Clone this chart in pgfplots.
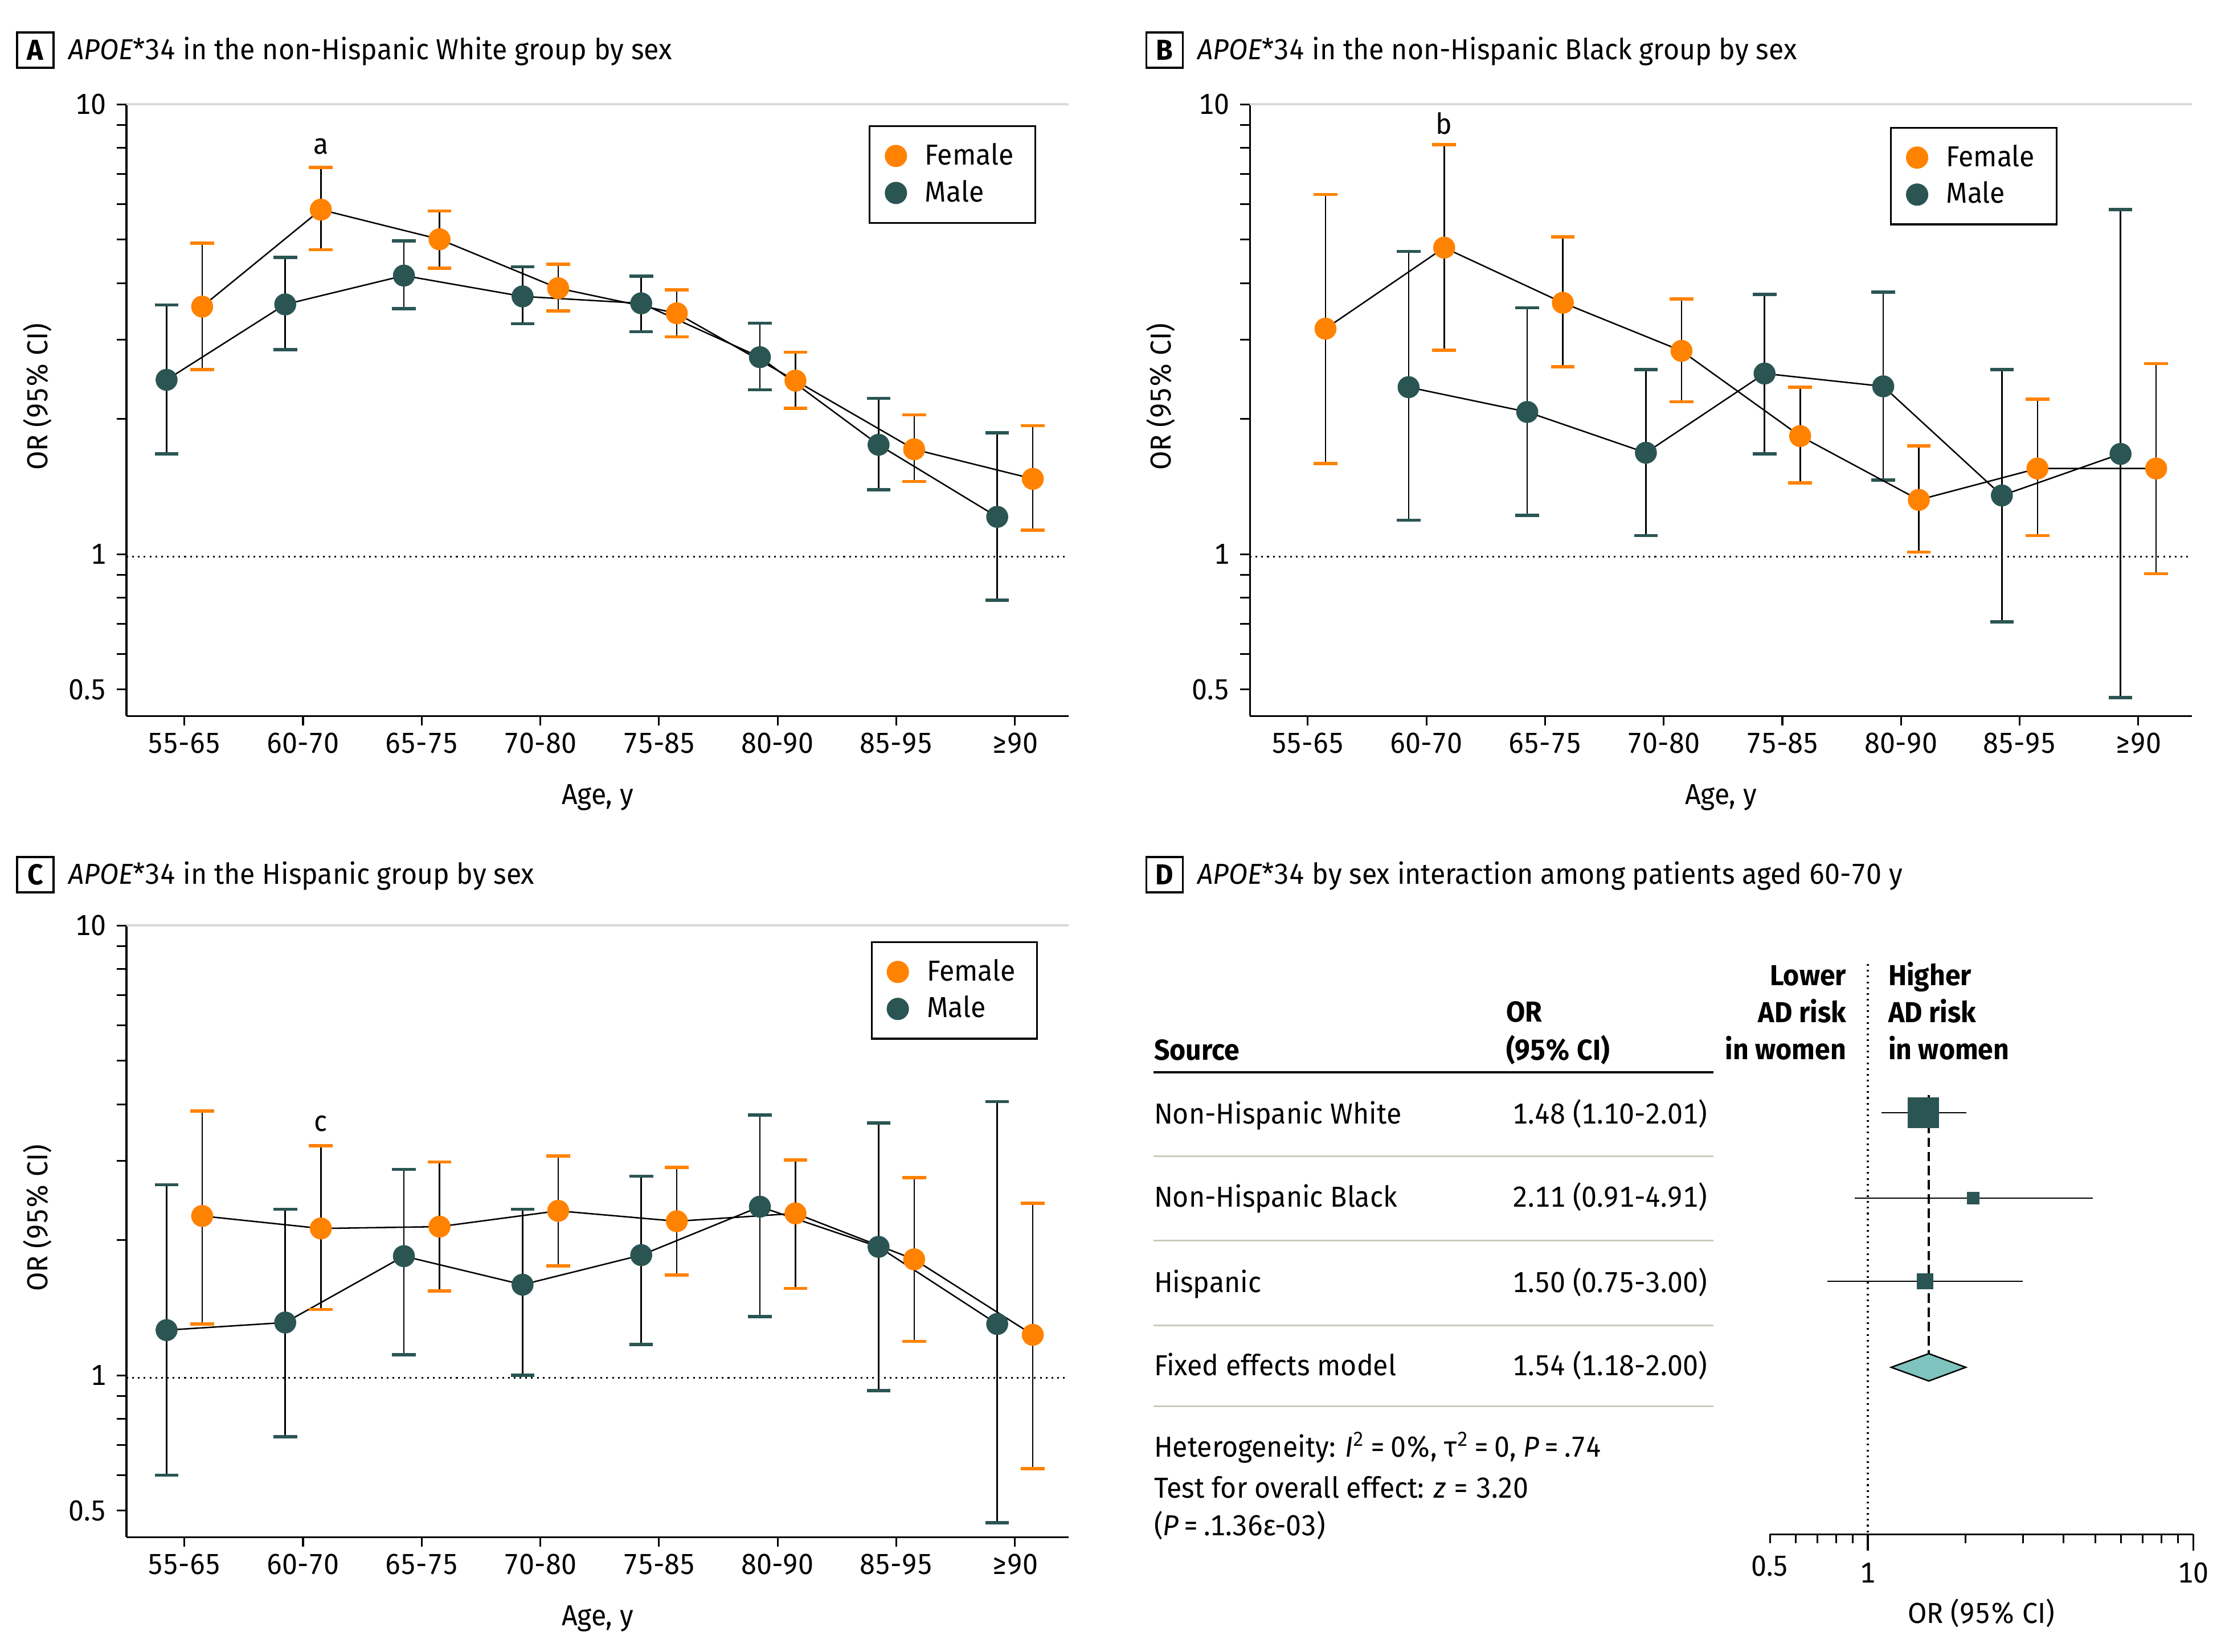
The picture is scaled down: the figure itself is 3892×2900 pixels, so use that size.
\documentclass[border=0pt]{standalone}
\usepackage{fontspec}
\setmainfont{Fira Sans}[FakeStretch=0.95, Numbers=Monospaced]
\usepackage{pgfplots}
\usepackage{pgfplotstable}
\pgfplotsset{compat=1.18}
\definecolor{femc}{HTML}{FF8200}
\definecolor{malec}{HTML}{2A5553}
\definecolor{diac}{HTML}{7FC3BE}
\definecolor{rulec}{HTML}{CACABE}
\definecolor{topc}{HTML}{D9D9D9}

% panel A
\pgfplotstableread{
i y lo hi
0 3.55 2.57 4.91
1 5.83 4.75 7.24
2 5.01 4.32 5.79
3 3.90 3.47 4.41
4 3.43 3.04 3.87
5 2.43 2.11 2.81
6 1.71 1.45 2.04
7 1.47 1.13 1.93
}\AF
\pgfplotstableread{
i y lo hi
0 2.44 1.67 3.58
1 3.59 2.85 4.57
2 4.16 3.51 4.97
3 3.74 3.25 4.35
4 3.61 3.12 4.15
5 2.74 2.32 3.26
6 1.75 1.39 2.22
7 1.21 0.79 1.86
}\AM
% panel B
\pgfplotstableread{
i y lo hi
0 3.17 1.59 6.30
1 4.80 2.84 8.13
2 3.62 2.61 5.07
3 2.83 2.18 3.69
4 1.83 1.44 2.35
5 1.32 1.01 1.74
6 1.55 1.10 2.21
7 1.55 0.905 2.65
}\BF
\pgfplotstableread{
i y lo hi
1 2.35 1.19 4.71
2 2.07 1.22 3.53
3 1.68 1.10 2.57
4 2.52 1.67 3.78
5 2.36 1.46 3.82
6 1.35 0.707 2.57
7 1.67 0.48 5.83
}\BM
% panel C
\pgfplotstableread{
i y lo hi
0 2.26 1.30 3.87
1 2.12 1.40 3.24
2 2.14 1.54 2.98
3 2.32 1.75 3.07
4 2.20 1.67 2.90
5 2.29 1.56 3.01
6 1.81 1.19 2.75
7 1.23 0.62 2.41
}\CF
\pgfplotstableread{
i y lo hi
0 1.26 0.60 2.65
1 1.31 0.73 2.34
2 1.84 1.11 2.87
3 1.59 1.00 2.34
4 1.85 1.17 2.77
5 2.37 1.35 3.79
6 1.93 0.925 3.64
7 1.30 0.47 4.06
}\CM

\begin{document}
\fontsize{10}{12}\selectfont
\begin{tikzpicture}
\begin{scope}[x=0.19707pt, y=-0.19707pt]
\useasboundingbox (0,0) rectangle (3892,2900);
\draw[line width=0.6pt] (30,57) rectangle (94,119);
\node[font=\bfseries] at (62,88) {A};
\node[anchor=base west, inner sep=0pt] at (119,104) {\textit{APOE}*34 in the non-Hispanic White group by sex};
\draw[line width=0.6pt] (2012,57) rectangle (2076,119);
\node[font=\bfseries] at (2044,88) {B};
\node[anchor=base west, inner sep=0pt] at (2101,104) {\textit{APOE}*34 in the non-Hispanic Black group by sex};
\draw[line width=0.6pt] (30,1505) rectangle (94,1567);
\node[font=\bfseries] at (62,1536) {C};
\node[anchor=base west, inner sep=0pt] at (119,1552) {\textit{APOE}*34 in the Hispanic group by sex};
\draw[line width=0.6pt] (2012,1505) rectangle (2076,1567);
\node[font=\bfseries] at (2044,1536) {D};
\node[anchor=base west, inner sep=0pt] at (2101,1552) {\textit{APOE}*34 by sex interaction among patients aged 60-70 y};
\begin{scope}[every node/.style={inner sep=0pt}]
\node[anchor=base west, font=\bfseries] at (2025,1861) {Source};
\node[anchor=base west, font=\bfseries] at (2643,1794) {OR};
\node[anchor=base west, font=\bfseries] at (2643,1861) {(95\% CI)};
\draw[line width=0.8pt] (2025,1883) -- (3008,1883);
\node[anchor=base west] at (2025,1973) {Non-Hispanic White};
\node[anchor=base east] at (2998,1973) {1.48 (1.10-2.01)};
\draw[rulec, line width=0.6pt] (2025,2030) -- (3008,2030);
\node[anchor=base west] at (2025,2119) {Non-Hispanic Black};
\node[anchor=base east] at (2998,2119) {2.11 (0.91-4.91)};
\draw[rulec, line width=0.6pt] (2025,2178) -- (3008,2178);
\node[anchor=base west] at (2025,2269) {Hispanic};
\node[anchor=base east] at (2998,2269) {1.50 (0.75-3.00)};
\draw[rulec, line width=0.6pt] (2025,2327) -- (3008,2327);
\node[anchor=base west] at (2025,2415) {Fixed effects model};
\node[anchor=base east] at (2998,2415) {1.54 (1.18-2.00)};
\draw[rulec, line width=0.6pt] (2025,2469) -- (3008,2469);
\node[anchor=base west] at (2025,2558) {Heterogeneity: \textit{I}\textsuperscript{2}\,=\,0\%, τ\textsuperscript{2}\,=\,0, \textit{P}\,=\,.74};
\node[anchor=base west] at (2025,2630) {Test for overall effect: \textit{z} = 3.20};
\node[anchor=base west] at (2025,2696) {(\textit{P}\,=\,.1.36ε-03)};
\node[anchor=base east, font=\bfseries] at (3242,1730) {Lower};
\node[anchor=base east, font=\bfseries] at (3242,1795) {AD risk};
\node[anchor=base east, font=\bfseries] at (3242,1860) {in women};
\node[anchor=base west, font=\bfseries] at (3314,1730) {Higher};
\node[anchor=base west, font=\bfseries] at (3314,1795) {AD risk};
\node[anchor=base west, font=\bfseries] at (3314,1860) {in women};
\end{scope}
\end{scope}

% ---------------- Panel A
\begin{axis}[at={(43.75pt,-247.72pt)}, anchor=south west,
    scale only axis, width=325.95pt, height=211.65pt,
    ymode=log, ymin=0.437, ymax=10, xmin=-0.488, xmax=7.452,
    axis x line*=bottom, axis y line*=left,
    axis line style={black, line width=0.6pt, -},
    xtick={0,...,7}, xticklabels={55-65,60-70,65-75,70-80,75-85,80-90,85-95,≥90},
    ytick={0.5,1,10}, yticklabels={0.5,1,10},
    minor ytick={0.6,0.7,0.8,0.9,2,3,4,5,6,7,8,9},
    tick align=outside, major tick length=3.4pt, minor tick length=3.4pt,
    tick style={black, line width=0.6pt},
    xticklabel style={anchor=north, inner sep=0pt, yshift=-2.4pt},
    yticklabel style={anchor=east, inner sep=0pt, xshift=-3.4pt},
    xlabel={Age, y}, ylabel={OR (95\% CI)},
    xlabel style={at={(axis description cs:0.5,-0.1332)}, anchor=center},
    ylabel style={at={(axis description cs:-0.0945,0.522)}, anchor=center},
    clip=false, legend cell align=left,
    legend style={draw=black, line width=0.6pt, fill=white, anchor=north west,
      inner xsep=5.5pt, inner ysep=3.8pt, row sep=-0.2pt, at={(0.788,0.9655)}}]
\draw[topc, line width=0.8pt] (rel axis cs:0,1) -- (rel axis cs:1,1);
\draw[black, line width=0.6pt, dash pattern=on 0.6pt off 1.4pt] (rel axis cs:0,0.2606) -- (rel axis cs:1,0.2606);
\addplot[black, line width=0.5pt, mark=*, mark size=3.55pt, mark options={fill=malec, draw=malec},
  error bars/y dir=both, error bars/y explicit,
  error bars/error bar style={black, line width=0.5pt},
  error bars/error mark options={rotate=90, malec, line width=1.1pt, mark size=4.1pt}, forget plot]
  table[x expr=\thisrow{i}-0.15, y=y, y error plus expr=\thisrow{hi}-\thisrow{y}, y error minus expr=\thisrow{y}-\thisrow{lo}] {\AM};
\addplot[black, line width=0.5pt, mark=*, mark size=3.55pt, mark options={fill=femc, draw=femc},
  error bars/y dir=both, error bars/y explicit,
  error bars/error bar style={black, line width=0.5pt},
  error bars/error mark options={rotate=90, femc, line width=1.1pt, mark size=4.1pt}, forget plot]
  table[x expr=\thisrow{i}+0.15, y=y, y error plus expr=\thisrow{hi}-\thisrow{y}, y error minus expr=\thisrow{y}-\thisrow{lo}] {\AF};
\addlegendimage{only marks, mark=*, mark size=3.55pt, mark options={fill=femc, draw=femc}}
\addlegendentry{\hspace{4.5pt}Female}
\addlegendimage{only marks, mark=*, mark size=3.55pt, mark options={fill=malec, draw=malec}}
\addlegendentry{\hspace{4.5pt}Male}
\node at (axis cs:1.15,8.06) {a};
\end{axis}

% ---------------- Panel B
\begin{axis}[at={(432.37pt,-247.72pt)}, anchor=south west,
    scale only axis, width=325.95pt, height=211.65pt,
    ymode=log, ymin=0.437, ymax=10, xmin=-0.488, xmax=7.452,
    axis x line*=bottom, axis y line*=left,
    axis line style={black, line width=0.6pt, -},
    xtick={0,...,7}, xticklabels={55-65,60-70,65-75,70-80,75-85,80-90,85-95,≥90},
    ytick={0.5,1,10}, yticklabels={0.5,1,10},
    minor ytick={0.6,0.7,0.8,0.9,2,3,4,5,6,7,8,9},
    tick align=outside, major tick length=3.4pt, minor tick length=3.4pt,
    tick style={black, line width=0.6pt},
    xticklabel style={anchor=north, inner sep=0pt, yshift=-2.4pt},
    yticklabel style={anchor=east, inner sep=0pt, xshift=-3.4pt},
    xlabel={Age, y}, ylabel={OR (95\% CI)},
    xlabel style={at={(axis description cs:0.5,-0.1332)}, anchor=center},
    ylabel style={at={(axis description cs:-0.0945,0.522)}, anchor=center},
    clip=false, legend cell align=left,
    legend style={draw=black, line width=0.6pt, fill=white, anchor=north west,
      inner xsep=5.5pt, inner ysep=3.8pt, row sep=-0.2pt, at={(0.6796,0.9628)}}]
\draw[topc, line width=0.8pt] (rel axis cs:0,1) -- (rel axis cs:1,1);
\draw[black, line width=0.6pt, dash pattern=on 0.6pt off 1.4pt] (rel axis cs:0,0.2606) -- (rel axis cs:1,0.2606);
\addplot[black, line width=0.5pt, mark=*, mark size=3.55pt, mark options={fill=malec, draw=malec},
  error bars/y dir=both, error bars/y explicit,
  error bars/error bar style={black, line width=0.5pt},
  error bars/error mark options={rotate=90, malec, line width=1.1pt, mark size=4.1pt}, forget plot]
  table[x expr=\thisrow{i}-0.15, y=y, y error plus expr=\thisrow{hi}-\thisrow{y}, y error minus expr=\thisrow{y}-\thisrow{lo}] {\BM};
\addplot[black, line width=0.5pt, mark=*, mark size=3.55pt, mark options={fill=femc, draw=femc},
  error bars/y dir=both, error bars/y explicit,
  error bars/error bar style={black, line width=0.5pt},
  error bars/error mark options={rotate=90, femc, line width=1.1pt, mark size=4.1pt}, forget plot]
  table[x expr=\thisrow{i}+0.15, y=y, y error plus expr=\thisrow{hi}-\thisrow{y}, y error minus expr=\thisrow{y}-\thisrow{lo}] {\BF};
\addlegendimage{only marks, mark=*, mark size=3.55pt, mark options={fill=femc, draw=femc}}
\addlegendentry{\hspace{4.5pt}Female}
\addlegendimage{only marks, mark=*, mark size=3.55pt, mark options={fill=malec, draw=malec}}
\addlegendentry{\hspace{4.5pt}Male}
\node at (axis cs:1.15,9.06) {b};
\end{axis}

% ---------------- Panel C
\begin{axis}[at={(43.75pt,-531.89pt)}, anchor=south west,
    scale only axis, width=325.95pt, height=211.65pt,
    ymode=log, ymin=0.437, ymax=10, xmin=-0.488, xmax=7.452,
    axis x line*=bottom, axis y line*=left,
    axis line style={black, line width=0.6pt, -},
    xtick={0,...,7}, xticklabels={55-65,60-70,65-75,70-80,75-85,80-90,85-95,≥90},
    ytick={0.5,1,10}, yticklabels={0.5,1,10},
    minor ytick={0.6,0.7,0.8,0.9,2,3,4,5,6,7,8,9},
    tick align=outside, major tick length=3.4pt, minor tick length=3.4pt,
    tick style={black, line width=0.6pt},
    xticklabel style={anchor=north, inner sep=0pt, yshift=-2.4pt},
    yticklabel style={anchor=east, inner sep=0pt, xshift=-3.4pt},
    xlabel={Age, y}, ylabel={OR (95\% CI)},
    xlabel style={at={(axis description cs:0.5,-0.1332)}, anchor=center},
    ylabel style={at={(axis description cs:-0.0945,0.522)}, anchor=center},
    clip=false, legend cell align=left,
    legend style={draw=black, line width=0.6pt, fill=white, anchor=north west,
      inner xsep=5.5pt, inner ysep=3.8pt, row sep=-0.2pt, at={(0.790,0.974)}}]
\draw[topc, line width=0.8pt] (rel axis cs:0,1) -- (rel axis cs:1,1);
\draw[black, line width=0.6pt, dash pattern=on 0.6pt off 1.4pt] (rel axis cs:0,0.2606) -- (rel axis cs:1,0.2606);
\addplot[black, line width=0.5pt, mark=*, mark size=3.55pt, mark options={fill=malec, draw=malec},
  error bars/y dir=both, error bars/y explicit,
  error bars/error bar style={black, line width=0.5pt},
  error bars/error mark options={rotate=90, malec, line width=1.1pt, mark size=4.1pt}, forget plot]
  table[x expr=\thisrow{i}-0.15, y=y, y error plus expr=\thisrow{hi}-\thisrow{y}, y error minus expr=\thisrow{y}-\thisrow{lo}] {\CM};
\addplot[black, line width=0.5pt, mark=*, mark size=3.55pt, mark options={fill=femc, draw=femc},
  error bars/y dir=both, error bars/y explicit,
  error bars/error bar style={black, line width=0.5pt},
  error bars/error mark options={rotate=90, femc, line width=1.1pt, mark size=4.1pt}, forget plot]
  table[x expr=\thisrow{i}+0.15, y=y, y error plus expr=\thisrow{hi}-\thisrow{y}, y error minus expr=\thisrow{y}-\thisrow{lo}] {\CF};
\addlegendimage{only marks, mark=*, mark size=3.55pt, mark options={fill=femc, draw=femc}}
\addlegendentry{\hspace{4.5pt}Female}
\addlegendimage{only marks, mark=*, mark size=3.55pt, mark options={fill=malec, draw=malec}}
\addlegendentry{\hspace{4.5pt}Male}
\node at (axis cs:1.15,3.63) {c};
\end{axis}

% ---------------- Panel D forest
\begin{axis}[at={(612.30pt,-530.91pt)}, anchor=south west, scale only axis,
  width=146.42pt, height=197.27pt,
  xmode=log, xmin=0.5, xmax=10, ymin=-2694, ymax=-1693,
  axis x line*=bottom, axis y line=none,
  axis line style={black, line width=0.6pt, -},
  xtick={1,10}, xticklabels={1,10},
  extra x ticks={0.5}, extra x tick labels={0.5},
  extra x tick style={major tick length=3.2pt},
  minor xtick={0.6,0.7,0.8,0.9,2,3,4,5,6,7,8,9},
  tick align=outside, major tick length=5.7pt, minor tick length=3.2pt,
  tick style={black, line width=0.6pt},
  xticklabel style={anchor=north, inner sep=0pt, yshift=-4pt},
  xlabel={OR (95\% CI)},
  xlabel style={at={(axis description cs:0.5,-0.1389)}, anchor=center},
  clip=false]
\addplot[black, line width=0.6pt, dash pattern=on 0.6pt off 1.4pt] coordinates {(1,-1693) (1,-2694)};
\addplot[black, line width=0.9pt, dash pattern=on 3.3pt off 1.6pt] coordinates {(1.54,-1923) (1.54,-2377)};
\addplot[black, line width=0.45pt] coordinates {(1.10,-1954) (2.01,-1954)};
\addplot[black, line width=0.45pt] coordinates {(0.91,-2104) (4.91,-2104)};
\addplot[black, line width=0.45pt] coordinates {(0.75,-2250) (3.00,-2250)};
\addplot[only marks, mark=square*, mark size=5.2pt, mark options={fill=malec, draw=malec}] coordinates {(1.48,-1954)};
\addplot[only marks, mark=square*, mark size=2.0pt, mark options={fill=malec, draw=malec}] coordinates {(2.11,-2104)};
\addplot[only marks, mark=square*, mark size=2.6pt, mark options={fill=malec, draw=malec}] coordinates {(1.50,-2250)};
\addplot[fill=diac, draw=black, line width=0.5pt] coordinates {(1.18,-2401) (1.54,-2377) (2.00,-2401) (1.54,-2425)} -- cycle;
\end{axis}
\end{tikzpicture}
\end{document}
